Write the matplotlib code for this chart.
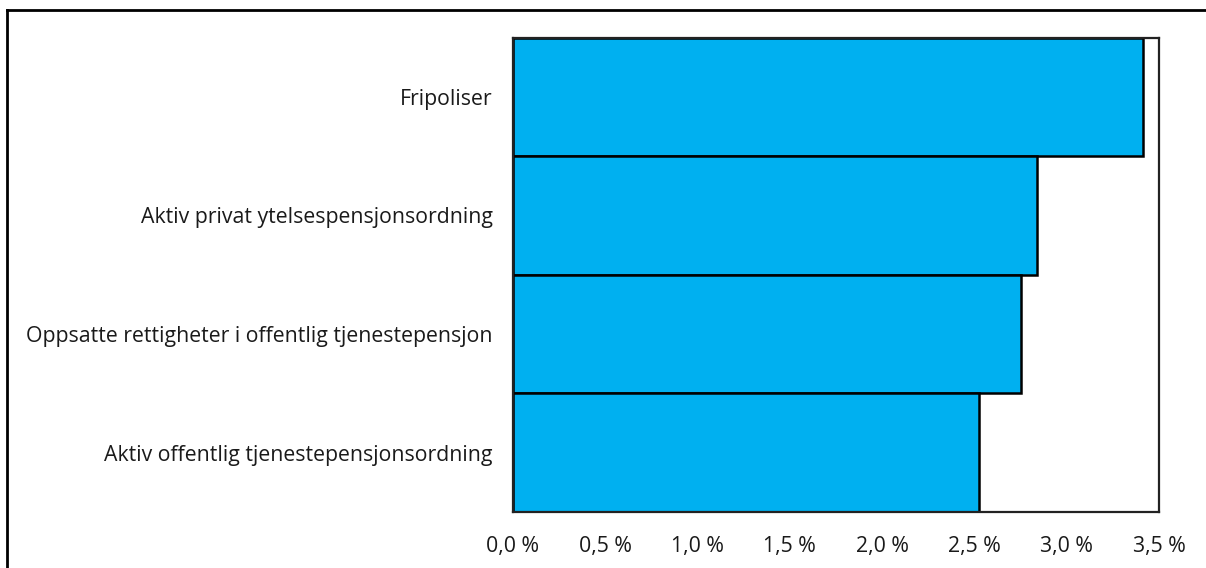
import matplotlib
matplotlib.use('Agg')
import matplotlib.pyplot as plt
from matplotlib.lines import Line2D
from matplotlib.ticker import FuncFormatter

# Pension scheme categories, top to bottom
categories = [
    'Fripoliser',
    'Aktiv privat ytelsespensjonsordning',
    'Oppsatte rettigheter i offentlig tjenestepensjon',
    'Aktiv offentlig tjenestepensjonsordning',
]
values = [3.413, 2.838, 2.752, 2.526]
xticks = [0.0, 0.5, 1.0, 1.5, 2.0, 2.5, 3.0, 3.5]

plt.rcParams['font.family'] = ['Open Sans', 'DejaVu Sans']

W, H = 1206, 568
fig = plt.figure(figsize=(W / 100, H / 100), dpi=100)
ax = fig.add_axes([513 / W, 1 - 512 / H, (1159 - 513) / W, (512 - 37.5) / H])

ypos = list(range(len(categories)))
ax.barh(ypos, values, height=1.0, color='#00B0F0', edgecolor='black', linewidth=1.8)
ax.set_ylim(len(categories) - 0.5, -0.5)
ax.set_xlim(0, 3.5)

ax.set_yticks(ypos)
ax.set_yticklabels(categories)
ax.set_xticks(xticks)
ax.xaxis.set_major_formatter(FuncFormatter(lambda v, _: f'{v:.1f} %'.replace('.', ',')))
ax.tick_params(axis='both', length=0, colors='#1a1a1a', labelsize=15.3)
ax.tick_params(axis='y', pad=14.4)
ax.tick_params(axis='x', pad=17)

for s in ax.spines.values():
    s.set_linewidth(1.6)
    s.set_color('#222222')

# outer frame (only top and left edges fall inside the canvas)
fig.add_artist(Line2D([7 / W, 1.0], [1 - 10 / H, 1 - 10 / H], transform=fig.transFigure,
                      color='black', linewidth=2))
fig.add_artist(Line2D([7 / W, 7 / W], [0.0, 1 - 10 / H], transform=fig.transFigure,
                      color='black', linewidth=2))

fig.savefig('out.png', dpi=100)
